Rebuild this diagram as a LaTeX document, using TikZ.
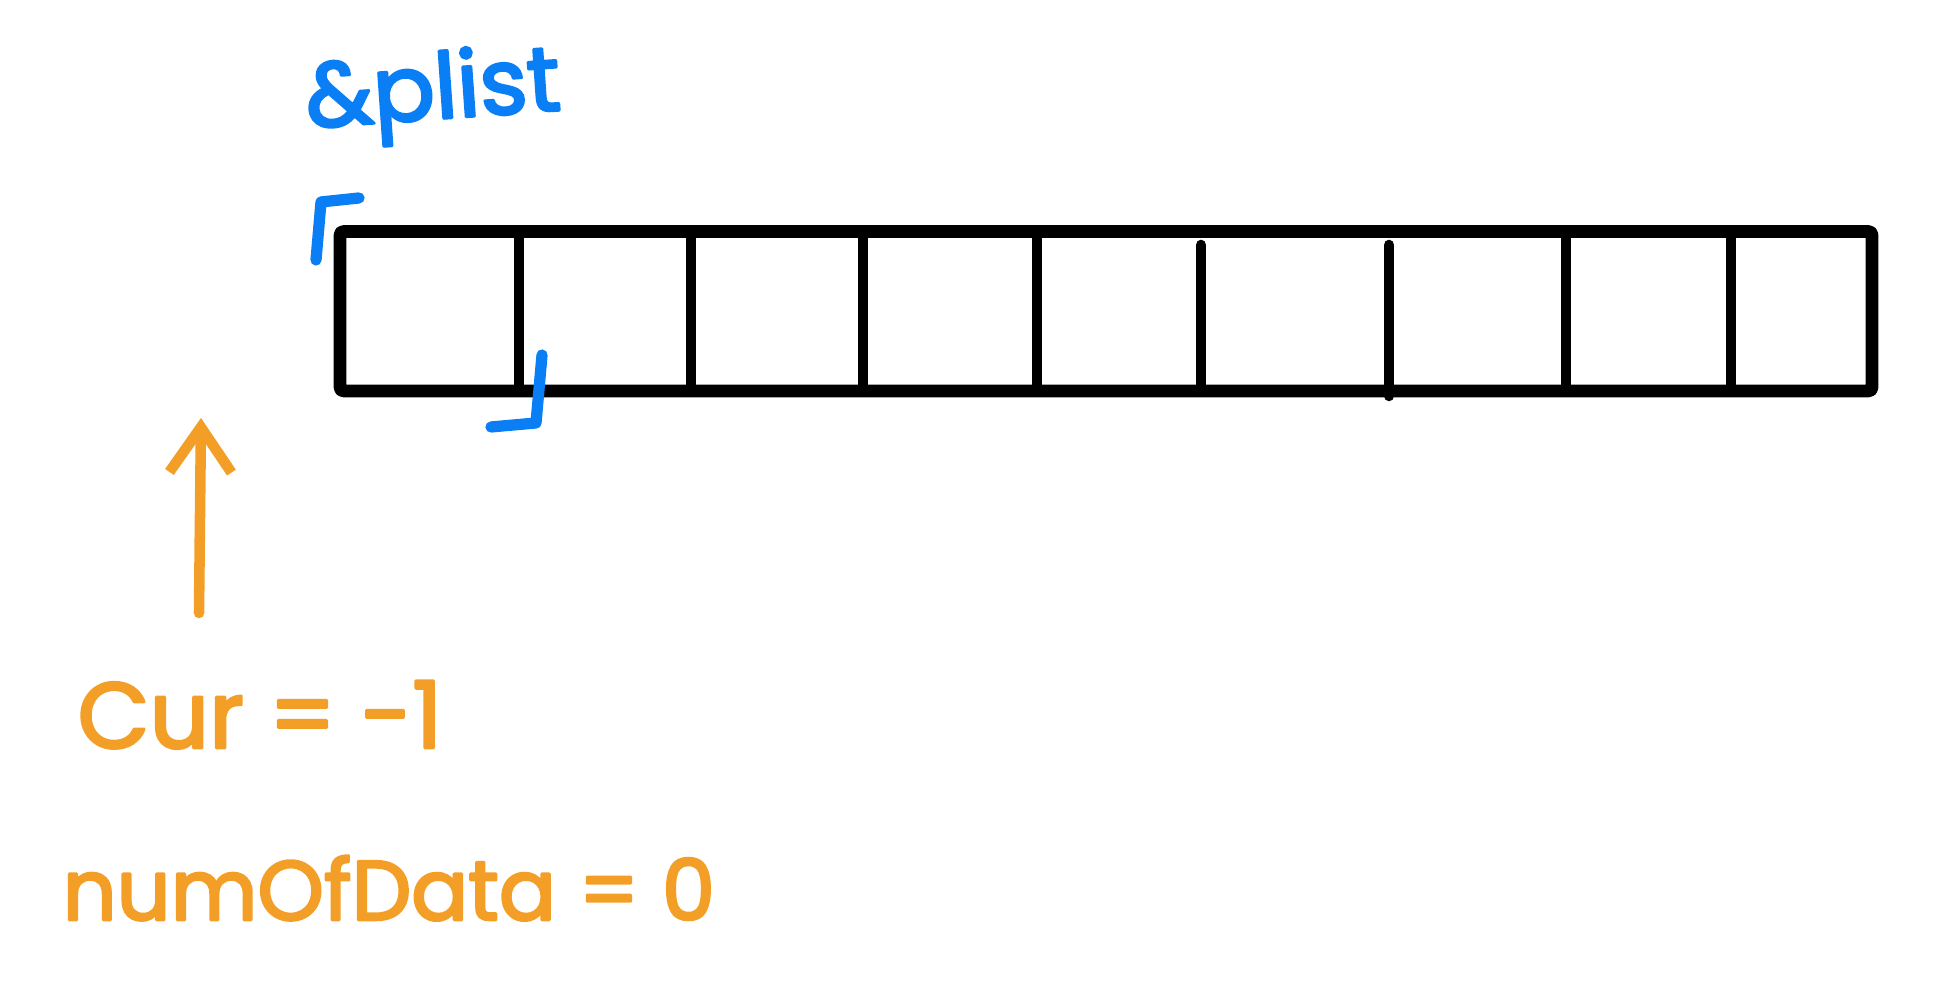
\documentclass[tikz,border=0pt]{standalone}
\usepackage{fontspec}
\setmainfont{Poppins}
\newfontfamily\penfont[FakeBold=3]{Poppins}
\usepackage{tikz}
\usetikzlibrary{arrows.meta}
\usetikzlibrary{calc}

\definecolor{penblue}{RGB}{10,126,245}
\definecolor{penorange}{RGB}{243,158,38}

\begin{document}
\begin{tikzpicture}[line cap=round, line join=round,
  frame/.style={black,line width=3.6pt,rounded corners=1pt},
  divider/.style={black,line width=3pt},
  bluepen/.style={penblue,line width=3.2pt},
  orangepen/.style={penorange,line width=3pt},
  bluetext/.style={text=penblue,inner sep=0pt,anchor=base west,font=\penfont\fontsize{26pt}{31pt}\selectfont},
  orangetext/.style={text=penorange,inner sep=0pt,anchor=base west,font=\penfont\fontsize{26.5pt}{31pt}\selectfont}]
\useasboundingbox (0,0) rectangle (19.41,10);

% the array
\draw[frame](3.40,6.09) rectangle (18.72,7.685);
\draw[divider](5.19,6.09)--(5.19,7.685);
\draw[divider](6.91,6.09)--(6.91,7.685);
\draw[divider](8.63,6.09)--(8.63,7.685);
\draw[divider](10.37,6.09)--(10.37,7.685);
\draw[divider](12.01,6.09)--(12.01,7.55);
\draw[divider](13.89,6.04)--(13.89,7.55);
\draw[divider](15.66,6.09)--(15.66,7.685);
\draw[divider](17.31,6.09)--(17.31,7.685);

% plist label and brackets
\node[bluetext,rotate=4] (plist) at (3.07,8.72) {\&plist};
\draw[bluepen](3.16,7.40)--(3.21,7.98)--(3.59,8.02);
\draw[bluepen](5.42,6.45)--(5.36,5.77)--(4.91,5.73);

% cur pointer
\coordinate (curtail) at (1.99,3.87);
\coordinate (curtip) at (2.01,5.82);
\draw[orangepen,-{Straight Barb[length=0.45cm,width=0.62cm,line width=3pt]}](curtail)--(curtip);

\node[orangetext] (cur) at (0.77,2.52) {Cur = -1};
\node[orangetext,font=\penfont\fontsize{24pt}{29pt}\selectfont] (num) at (0.62,0.80) {numOfData = 0};
\end{tikzpicture}
\end{document}
